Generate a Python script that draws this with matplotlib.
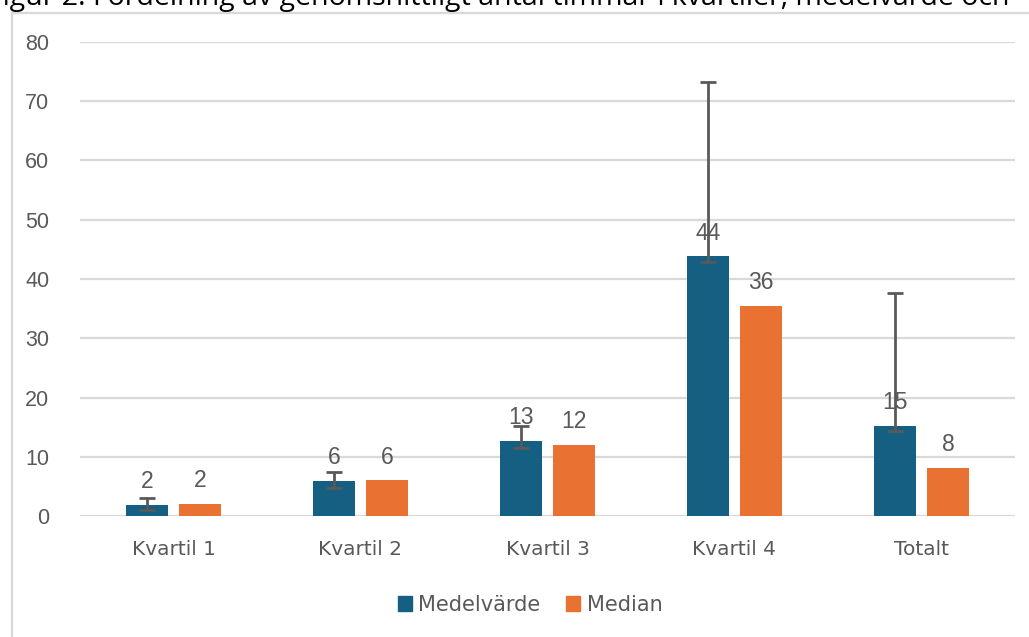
import matplotlib.pyplot as plt
from matplotlib.lines import Line2D
import numpy as np

categories = ["Kvartil 1", "Kvartil 2", "Kvartil 3", "Kvartil 4", "Totalt"]
medel = [1.8, 5.9, 12.7, 43.8, 15.2]
median = [2.0, 6.0, 12.0, 35.4, 8.1]
# error bar ends (low, high) for Medelvärde
err_low = [1.0, 4.8, 11.5, 42.9, 14.3]
err_high = [3.0, 7.4, 15.2, 73.2, 37.6]
medel_labels = ["2", "6", "13", "44", "15"]
median_labels = ["2", "6", "12", "36", "8"]
yticks = [0, 10, 20, 30, 40, 50, 60, 70, 80]

blue = "#156082"
orange = "#E97132"
grey = "#595959"

fig = plt.figure(figsize=(10.29, 6.37), dpi=100)
ax = fig.add_axes([80 / 1029, 1 - 516 / 637, 935 / 1029, 474 / 637])

x = np.arange(len(categories))
w = 0.225
off = 0.142
ax.bar(x - off, medel, w, color=blue, zorder=3)
ax.bar(x + off, median, w, color=orange, zorder=3)

lower = np.array(medel) - np.array(err_low)
upper = np.array(err_high) - np.array(medel)
ax.errorbar(x - off, medel, yerr=[lower, upper], fmt="none", ecolor=grey,
            elinewidth=2, capsize=6, capthick=2, zorder=4)

for xi, v, s in zip(x - off, medel, medel_labels):
    ax.text(xi, v + 2.0, s, ha="center", va="bottom", fontsize=16.5,
            color=grey, family="Liberation Sans", zorder=5)
for xi, v, s in zip(x + off, median, median_labels):
    ax.text(xi, v + 2.0, s, ha="center", va="bottom", fontsize=16.5,
            color=grey, family="Liberation Sans", zorder=5)

ax.set_xlim(-0.5, 4.5)
ax.set_ylim(0, 80)
ax.set_yticks(yticks)
ax.set_xticks(x)
ax.set_xticklabels(categories, fontsize=14.5, color=grey)
ax.tick_params(axis="y", length=0, pad=22, labelsize=15.5, labelcolor=grey)
ax.tick_params(axis="x", length=0, pad=17)
for lab in ax.get_yticklabels():
    lab.set_family("Liberation Sans")
ax.grid(axis="y", color="#d9d9d9", linewidth=1.6, zorder=0)
for sp in ax.spines.values():
    sp.set_visible(False)

handles = [plt.Rectangle((0, 0), 1, 1, color=blue),
           plt.Rectangle((0, 0), 1, 1, color=orange)]
fig.legend(handles, ["Medelvärde", "Median"], loc="center",
           bbox_to_anchor=(530 / 1029, 1 - 605 / 637), ncol=2, frameon=False,
           prop={"size": 15}, labelcolor=grey,
           handlelength=0.7, handleheight=0.7, handletextpad=0.3,
           columnspacing=1.2)

# chart frame (cut off at right and bottom)
fig.add_artist(Line2D([12 / 1029, 12 / 1029], [0, 1 - 13 / 637],
                      transform=fig.transFigure, color="#d9d9d9", lw=1.6))
fig.add_artist(Line2D([12 / 1029, 1], [1 - 13 / 637, 1 - 13 / 637],
                      transform=fig.transFigure, color="#d9d9d9", lw=1.6))

# caption above, cropped by the image edge
fig.text(-12 / 1029, 1 - 5 / 637,
         "Figur 2. Fördelning av genomsnittligt antal timmar i kvartiler, medelvärde och",
         fontsize=20.5, color="black", family="Open Sans", va="baseline")

fig.savefig("out.png", dpi=100)
